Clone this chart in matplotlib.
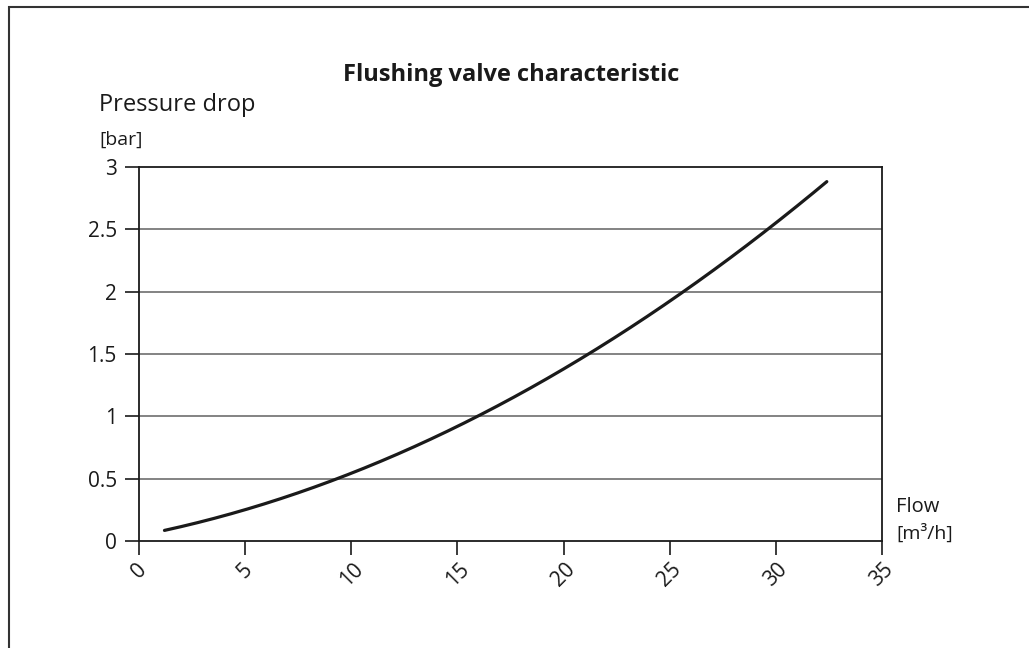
import matplotlib
matplotlib.use("Agg")
import matplotlib.pyplot as plt
from matplotlib.patches import Rectangle
import numpy as np

flow = [1.2, 5.0, 9.35, 16.0, 21.2, 25.6, 29.6, 32.4]
pressure = [0.08, 0.26, 0.5, 1.0, 1.5, 2.0, 2.5, 2.88]
x_ticks = [0, 5, 10, 15, 20, 25, 30, 35]
y_ticks = [0, 0.5, 1, 1.5, 2, 2.5, 3]
y_tick_labels = ["0", "0.5", "1", "1.5", "2", "2.5", "3"]

plt.rcParams['font.family'] = ['Open Sans', 'DejaVu Sans']

fig = plt.figure(figsize=(10.29, 6.48), dpi=100)
fig.patch.set_facecolor('white')
# outer frame
fig.patches.append(Rectangle((9/1029, -0.1), 1.2, 1 - 7/648 + 0.1, transform=fig.transFigure,
                             fill=False, edgecolor='#333333', linewidth=1.5))

ax = fig.add_axes([139/1029, 1 - 541/648, (882 - 139)/1029, (541 - 167)/648])

# smooth curve through points
coef = np.polyfit(flow, pressure, 2)
xs = np.linspace(flow[0], flow[-1], 200)
ax.plot(xs, np.polyval(coef, xs), color='#1a1a1a', linewidth=2.3, solid_capstyle='round')

ax.set_xlim(0, 35)
ax.set_ylim(0, 3)
for y in y_ticks[1:-1]:
    ax.axhline(y, color='#6e6e6e', linewidth=1.2, zorder=0)
for s in ax.spines.values():
    s.set_color('#1a1a1a')
    s.set_linewidth(1.3)

ax.set_xticks(x_ticks)
ax.set_xticklabels([str(v) for v in x_ticks], rotation=45, ha='center', va='top')
ax.set_yticks(y_ticks)
ax.set_yticklabels(y_tick_labels)
ax.tick_params(axis='both', labelsize=15, color='#1a1a1a', width=1.2, length=10, labelcolor='#1a1a1a')
ax.tick_params(axis='x', pad=3)
ax.tick_params(axis='y', pad=6)

fig.text(511/1029, 1 - 75/648, "Flushing valve characteristic", ha='center', va='center',
         fontsize=17, fontweight='bold', color='#1a1a1a')
fig.text(99/1029, 1 - 105/648, "Pressure drop", ha='left', va='center', fontsize=17, color='#1a1a1a')
fig.text(99/1029, 1 - 140/648, "[bar]", ha='left', va='center', fontsize=14, color='#1a1a1a')
fig.text(896/1029, 1 - 507/648, "Flow", ha='left', va='center', fontsize=14.5, color='#1a1a1a')
fig.text(896/1029, 1 - 533/648, "[m\u00b3/h]", ha='left', va='center', fontsize=14, color='#1a1a1a')

fig.savefig("out.png", dpi=100, facecolor='white')
